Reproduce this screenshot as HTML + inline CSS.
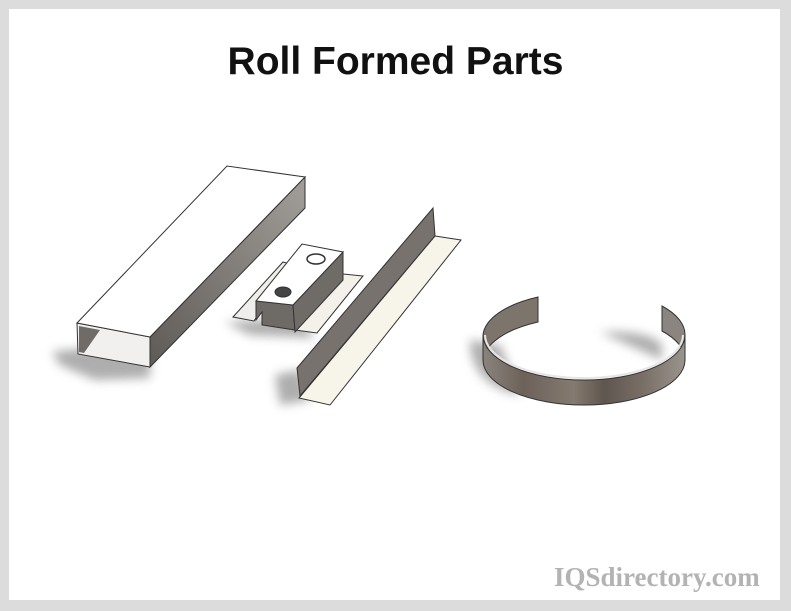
<!DOCTYPE html>
<html><head><meta charset="utf-8"><style>
html,body{margin:0;padding:0;width:791px;height:611px;background:#dcdcdc;overflow:hidden}
.w{position:absolute;left:9px;top:9px;width:771px;height:591px;background:#fff}
.t{position:absolute;left:0;width:791px;top:40px;text-align:center;font:bold 39px "Liberation Sans",sans-serif;color:#111}
.m{position:absolute;left:554px;top:562px;font:bold 27px "Liberation Serif",serif;color:#b3b3b3;letter-spacing:0px}
svg{position:absolute;left:0;top:0}
</style></head><body>
<div class="w"></div>
<div class="t">Roll Formed Parts</div>
<svg width="791" height="611" viewBox="0 0 791 611">
<defs>
<filter id="b" x="-50%" y="-50%" width="200%" height="200%"><feGaussianBlur stdDeviation="5"/></filter>
<linearGradient id="ring" x1="0" x2="1" y1="0" y2="0">
<stop offset="0" stop-color="#8a837c"/><stop offset="0.2" stop-color="#6d625a"/><stop offset="0.45" stop-color="#857a70"/><stop offset="0.6" stop-color="#5f564f"/><stop offset="0.8" stop-color="#7a7068"/><stop offset="1" stop-color="#9a948e"/></linearGradient>
<linearGradient id="side" x1="0" x2="1" y1="1" y2="0"><stop offset="0" stop-color="#5e5a56"/><stop offset="1" stop-color="#a29e9a"/></linearGradient>
</defs>
<g filter="url(#b)" fill="#9a9a9a" opacity="0.8">
<polygon points="52,352 150,340 150,378 95,380 60,365"/>
<polygon points="225,322 300,318 315,338 250,335"/>
<polygon points="275,375 300,370 310,400 280,405"/>
<path d="M470,340 Q470,385 520,395 L500,345 Z"/>
<path d="M600,332 Q650,330 662,345 L662,360 Z"/>
</g>
<polygon points="77,323 150,337 150,367 78,354" fill="#f2f0ee" stroke="#333" stroke-width="1"/>
<polygon points="79,326 100,330 84,353 79,352" fill="#6f6b67"/>
<polygon points="150,337 305,177 305,208 150,367" fill="url(#side)" stroke="#333" stroke-width="1"/>
<polygon points="77,323 227,166 305,177 150,337" fill="#fff" stroke="#333" stroke-width="1"/>
<polygon points="233,317 283,262 290,264 254,321" fill="#f0eeea" stroke="#333" stroke-width="1"/>
<polygon points="343,274 363,276 317,333 295,330" fill="#f4f1ea" stroke="#333" stroke-width="1"/>
<polygon points="256,301 293,305 295,330 262,325 262,312 256,320" fill="#6e6a66" stroke="#333" stroke-width="1"/>
<polygon points="293,305 343,252 343,280 295,332" fill="#6f6b67" stroke="#333" stroke-width="1"/>
<polygon points="256,301 302,244 343,252 293,305" fill="#fff" stroke="#333" stroke-width="1"/>
<ellipse cx="316" cy="259" rx="9" ry="5" fill="#fff" stroke="#333" stroke-width="1.5"/>
<ellipse cx="283" cy="292" rx="8" ry="5" fill="#444" stroke="#333"/>
<polygon points="297,368 433,208 435,236 300,396" fill="#77726d" stroke="#333" stroke-width="1"/>
<polygon points="435,236 461,240 330,405 299,398" fill="#f7f4ea" stroke="#333" stroke-width="1"/>
<path d="M483,335 A101,45 0 0 1 538,297 L538,322 A101,45 0 0 0 483,360 Z" fill="#7d746c" stroke="#333" stroke-width="1"/>
<path d="M662,306 A101,45 0 0 1 685,335 L685,360 A101,45 0 0 0 662,331 Z" fill="#8a8580" stroke="#333" stroke-width="1"/>
<path d="M483,335 A101,45 0 0 0 685,335 L685,360 A101,45 0 0 1 483,360 Z" fill="url(#ring)" stroke="#333" stroke-width="1"/>
<path d="M485,335 A99,43 0 0 0 683,335" fill="none" stroke="#e8e6e4" stroke-width="2"/>
</svg>
<div class="m">IQSdirectory.com</div>
</body></html>
